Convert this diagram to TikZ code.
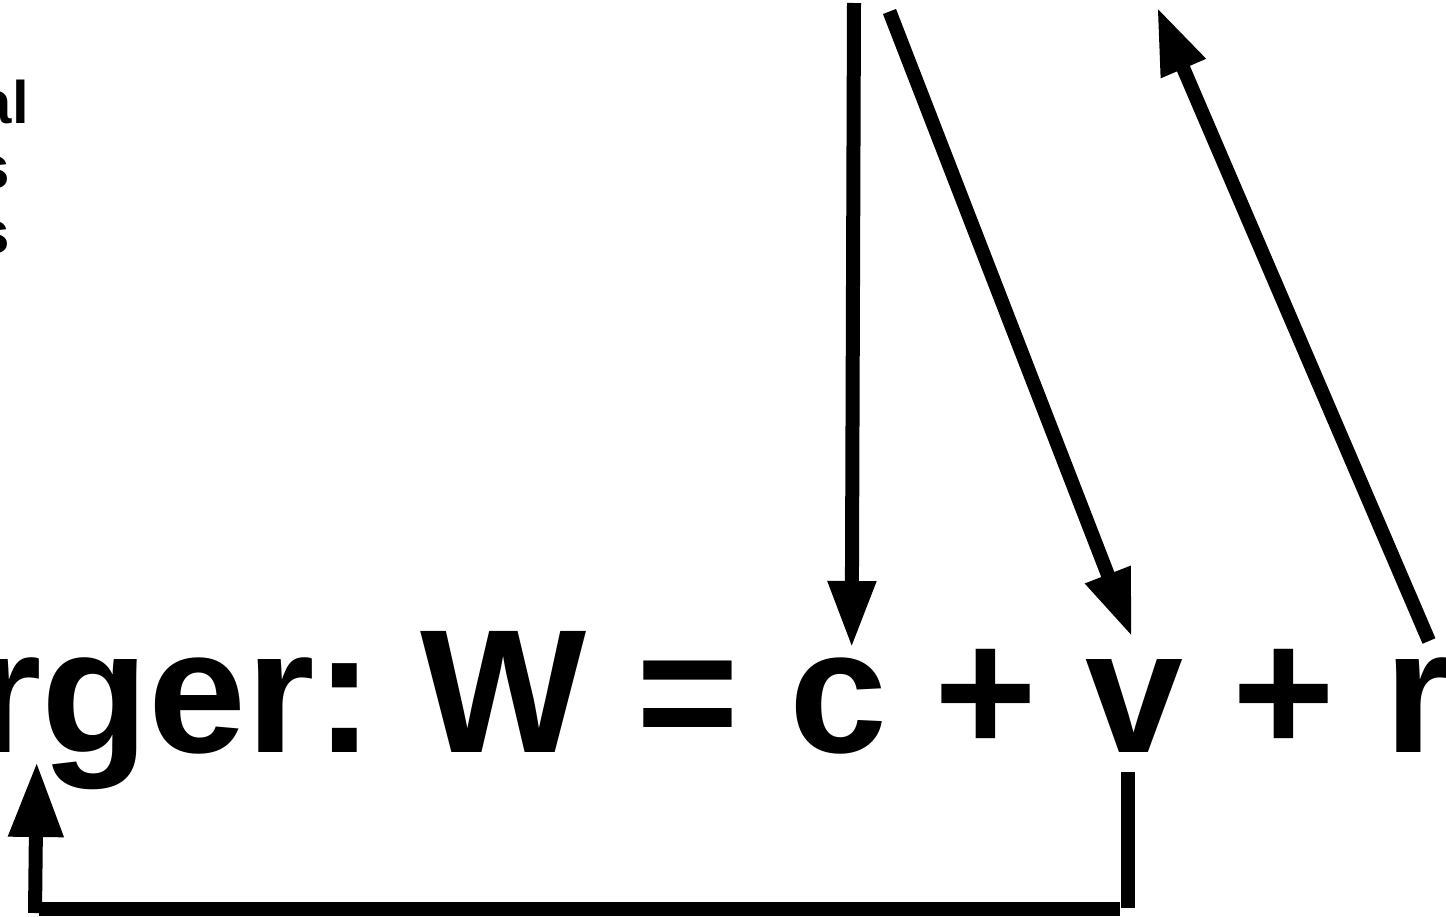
\documentclass[tikz,border=0pt]{standalone}
\usepackage{fontspec}
\setmainfont{Liberation Sans}
\usetikzlibrary{arrows.meta}
\tikzset{
  lbl/.style={inner sep=0pt, outer sep=0pt, anchor=base west, font=\bfseries\fontsize{176}{176}\selectfont},
  small/.style={inner sep=0pt, outer sep=0pt, anchor=base east, font=\bfseries\fontsize{60}{60}\selectfont},
  thick line/.style={line width=14pt},
  bigtip/.style={-{Triangle[width=45pt,length=67pt]}, line width=14pt},
  hugetip/.style={-{Triangle[width=52pt,length=75pt]}, line width=14pt},
}
\begin{document}
\begin{tikzpicture}[x=1pt,y=-1pt]
\useasboundingbox (0,0) rectangle (1446,916);
\clip (0,0) rectangle (1446,916);
% small text at left
\node[small] (t1) at (29,123) {al};
\node[small] (t2) at (10,188) {s};
\node[small] (t3) at (10,253) {s};
% main formula, token by token
\node[lbl] (w0) at (-27,752) {rger:};
\node[lbl] (w1) at (420,752) {W};
\node[lbl] (w2) at (636,752) {=};
\node[lbl] (w3) at (789,752) {c};
\node[lbl] (w4) at (934.5,752) {+};
\node[lbl] (w5) at (1085,752) {v};
\node[lbl] (w6) at (1232,752) {+};
\node[lbl] (w7) at (1384,752) {r};
% coordinates
\coordinate (a1s) at (854,3);
\coordinate (a1e) at (851.7,648);
\coordinate (a2s) at (889.5,11.5);
\coordinate (a2e) at (1132,637);
\coordinate (a3s) at (1429,641);
\coordinate (a3e) at (1157,7);
\coordinate (v1) at (1127.5,772);
\coordinate (v2) at (1127.5,908);
\coordinate (h1) at (1120,908.5);
\coordinate (h2) at (39,908.5);
\coordinate (l1) at (35,913);
\coordinate (l2) at (36.7,762);
% arrows
\draw[bigtip] (a1s) -- (a1e);
\draw[bigtip] (a2s) -- (a2e);
\draw[bigtip] (a3s) -- (a3e);
\draw[thick line] (v1) -- (v2);
\draw[thick line] (h1) -- (h2);
\draw[hugetip] (l1) -- (l2);
\end{tikzpicture}
\end{document}
